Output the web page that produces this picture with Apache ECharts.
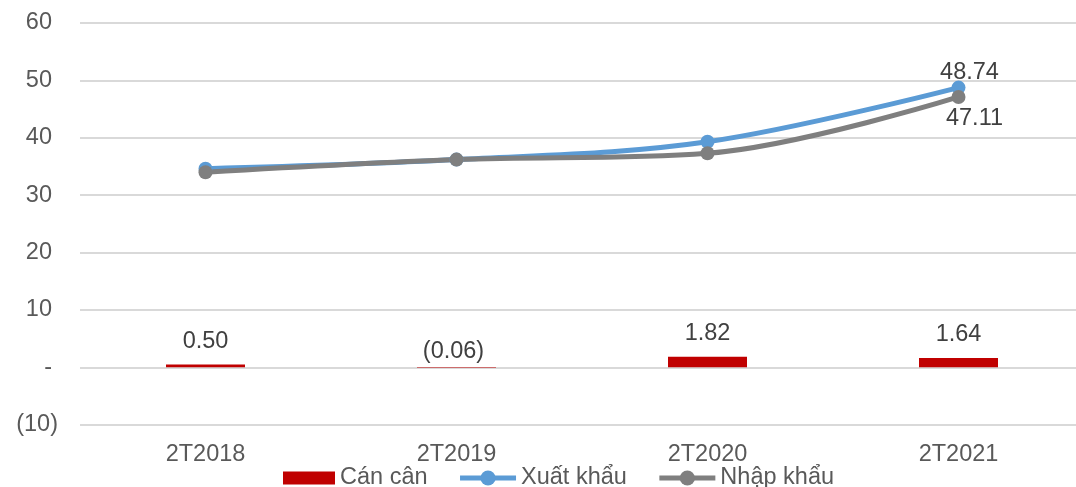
<!DOCTYPE html>
<html>
<head>
<meta charset="utf-8">
<script src="https://cdn.jsdelivr.net/npm/echarts@6/dist/echarts.min.js"></script>
<style>
html,body{margin:0;padding:0;background:#fff;}
#chart{width:1076px;height:487px;}
</style>
</head>
<body>
<div id="chart"></div>
<script>
const categories = ['2T2018', '2T2019', '2T2020', '2T2021'];
const canCan = [0.50, -0.06, 1.82, 1.64];
const xuatKhau = [34.6, 36.2, 39.3, 48.74];
const nhapKhau = [34.0, 36.2, 37.3, 47.11];
const seriesNames = ['Cán cân', 'Xuất khẩu', 'Nhập khẩu'];

const FONT = "'Liberation Sans', Arial, sans-serif";
const FS = 23.5;
const AXIS_COLOR = '#595959';
const LABEL_COLOR = '#404040';

function fmtNum(v) {
  return v < 0 ? '(' + Math.abs(v).toFixed(2) + ')' : v.toFixed(2);
}

const chart = echarts.init(document.getElementById('chart'), null, {renderer: 'canvas'});

const barData = canCan.map(v => v < 0 ? {value: v, label: {position: 'insideBottom', distance: 0, offset: [-3, -4]}} : v);
const xkData = xuatKhau.map((v, i) => i === xuatKhau.length - 1 ? {value: v, label: {show: true, position: 'top', distance: 0, offset: [11, 4]}} : v);
const nkData = nhapKhau.map((v, i) => i === nhapKhau.length - 1 ? {value: v, label: {show: true, position: 'bottom', distance: 0, offset: [16, 3]}} : v);

chart.setOption({
  animation: false,
  textStyle: {fontFamily: FONT},
  grid: {left: 80, width: 1004, top: 23, height: 401.7, containLabel: false, outerBoundsMode: 'none'},
  legend: {
    data: [
      {name: seriesNames[0], icon: 'path://M0,0L0,0M56,19L56,19M4,3H56V16H4Z'},
      {name: seriesNames[1], lineStyle: {width: 5}},
      {name: seriesNames[2], lineStyle: {width: 5}}
    ],
    left: 274,
    top: 461,
    itemWidth: 56,
    itemHeight: 19,
    itemGap: 30,
    textStyle: {fontFamily: FONT, fontSize: FS, color: AXIS_COLOR}
  },
  xAxis: {
    type: 'category',
    data: categories,
    axisLine: {show: false},
    axisTick: {show: false},
    axisLabel: {fontFamily: FONT, fontSize: FS, color: AXIS_COLOR, margin: 18}
  },
  yAxis: {
    type: 'value',
    min: -10,
    max: 60,
    interval: 10,
    axisLine: {show: false},
    axisTick: {show: false},
    splitLine: {lineStyle: {color: '#d9d9d9', width: 2}},
    axisLabel: {
      fontFamily: FONT, fontSize: FS, color: AXIS_COLOR, margin: 22,
      formatter: function (v) {
        if (v < 0) return '(' + Math.abs(v) + ')';
        if (v === 0) return '{p|-}';
        return '{p|' + v + '}';
      },
      rich: {p: {fontFamily: FONT, fontSize: FS, color: AXIS_COLOR, padding: [0, 6, 0, 0]}}
    }
  },
  series: [
    {
      name: seriesNames[0],
      type: 'bar',
      data: barData,
      barWidth: 79,
      itemStyle: {color: '#C00000'},
      label: {
        show: true, position: 'top', distance: 11,
        fontFamily: FONT, fontSize: FS, color: LABEL_COLOR,
        formatter: p => fmtNum(p.value)
      }
    },
    {
      name: seriesNames[1],
      type: 'line',
      data: xkData,
      smooth: 0.35,
      symbol: 'circle',
      symbolSize: 14,
      lineStyle: {width: 5, color: '#5B9BD5'},
      itemStyle: {color: '#5B9BD5'},
      label: {show: false, fontFamily: FONT, fontSize: FS, color: LABEL_COLOR, formatter: p => p.value.toFixed(2)}
    },
    {
      name: seriesNames[2],
      type: 'line',
      data: nkData,
      smooth: 0.35,
      symbol: 'circle',
      symbolSize: 14,
      lineStyle: {width: 5, color: '#7F7F7F'},
      itemStyle: {color: '#7F7F7F'},
      label: {show: false, fontFamily: FONT, fontSize: FS, color: LABEL_COLOR, formatter: p => p.value.toFixed(2)}
    }
  ]
});
</script>
</body>
</html>
